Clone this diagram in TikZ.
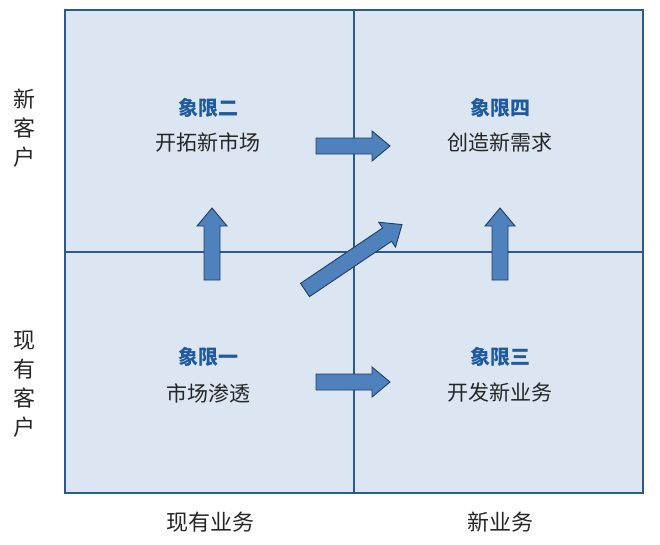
\documentclass[tikz,border=0pt]{standalone}
\usepackage{fontspec}
\setmainfont{Noto Sans CJK SC}
\definecolor{qfill}{HTML}{DCE6F2}
\definecolor{qline}{HTML}{2C5A8C}
\definecolor{afill}{HTML}{4F81BD}
\definecolor{aline}{HTML}{1F3F66}
\definecolor{ttl}{HTML}{1F5A9E}
\tikzset{
  title/.style={font=\fontsize{20}{22}\selectfont\bfseries, text=ttl},
  sub/.style={font=\fontsize{21}{23}\selectfont, text=black!85},
  axis/.style={font=\fontsize{22}{29}\selectfont, text=black!85, align=center},
  blk/.style={fill=afill, draw=aline, line width=0.9pt},
}
\newcommand{\myblockarrow}[1]{%
  \draw[blk] (0,-8) -- ({#1-18},-8) -- ({#1-18},-15) -- (#1,0) -- ({#1-18},15) -- ({#1-18},8) -- (0,8) -- cycle;}
\begin{document}
\begin{tikzpicture}[x=1pt,y=-1pt]
\useasboundingbox (0,0) rectangle (660,544);
\fill[qfill] (65,10) rectangle (643,493);
\draw[qline, line width=1.6pt] (65,10) rectangle (643,493);
\draw[qline, line width=1.2pt] (354,10) -- (354,493);
\draw[qline, line width=1.2pt] (65,252) -- (643,252);
\node[axis] (nc) at (24,128) {新\\客\\户};
\node[axis] (ec) at (24,384) {现\\有\\客\\户};
\node[axis] (eb) at (210,522) {现有业务};
\node[axis] (nb) at (500,522) {新业务};
\node[title] (t2) at (208,108) {象限二};
\node[sub] (s2) at (208,142) {开拓新市场};
\node[title] (t4) at (500,108) {象限四};
\node[sub] (s4) at (500,142) {创造新需求};
\node[title] (t1) at (208,357) {象限一};
\node[sub] (s1) at (208,393) {市场渗透};
\node[title] (t3) at (500,357) {象限三};
\node[sub] (s3) at (500,393) {开发新业务};
\begin{scope}[shift={(316,146)}]\myblockarrow{74}\end{scope}
\begin{scope}[shift={(316,382)}]\myblockarrow{74}\end{scope}
\begin{scope}[shift={(212,280)},rotate=90]\myblockarrow{72}\end{scope}
\begin{scope}[shift={(500,280)},rotate=90]\myblockarrow{72}\end{scope}
\begin{scope}[shift={(305,290)},rotate=34]\myblockarrow{117}\end{scope}
\end{tikzpicture}
\end{document}
